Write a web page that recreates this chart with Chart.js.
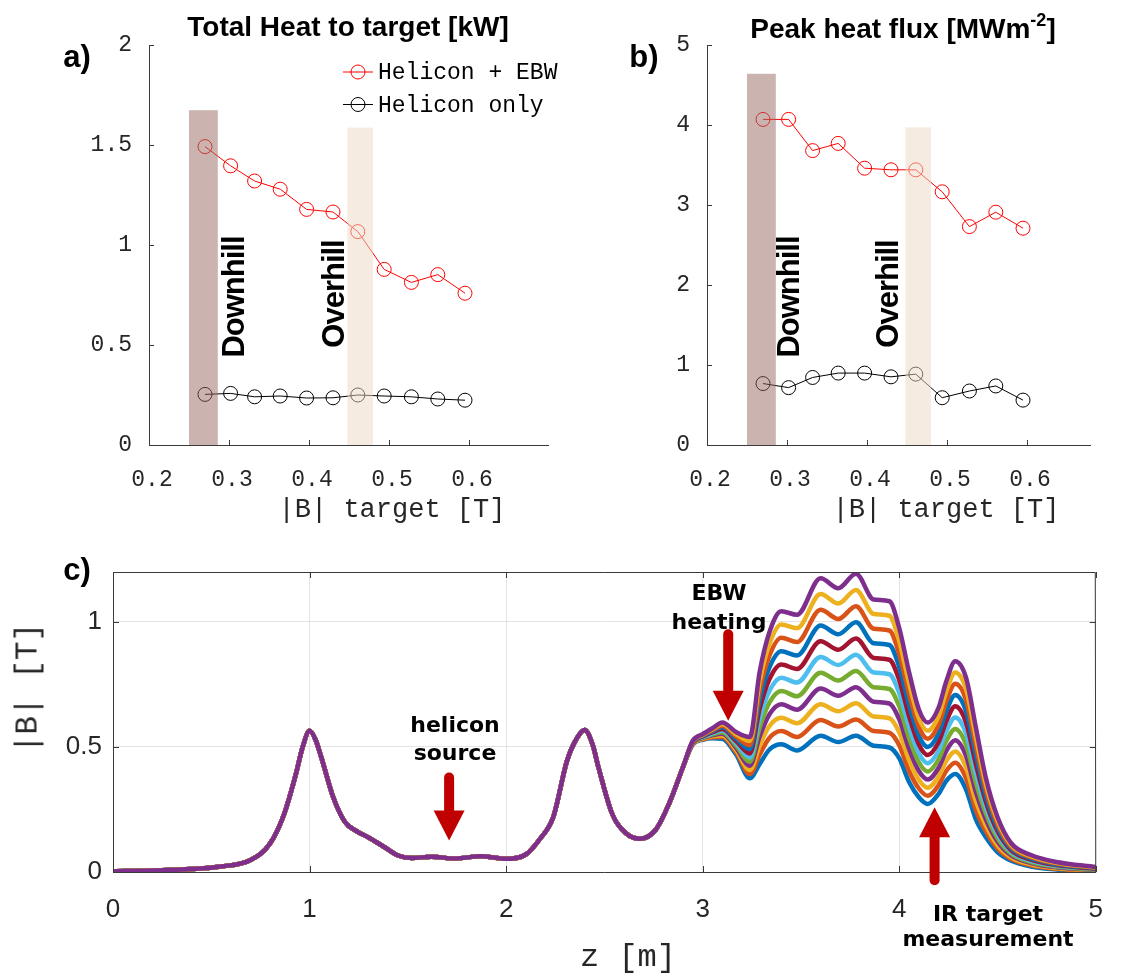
<!DOCTYPE html>
<html lang="en">
<head>
<meta charset="UTF-8">
<title>Target heat load vs |B| at target</title>
<script src="https://cdn.jsdelivr.net/npm/chart.js"></script>
<style>
  body { margin: 0; background: #fff; }
  #page { position: relative; width: 1125px; height: 974px; overflow: hidden;
          font-family: "Liberation Sans", Arial, sans-serif; }
  canvas { position: absolute; }
  .lbl { position: absolute; transform: translate(-50%, -50%); white-space: nowrap; color: #000; }
  .panel { font-weight: bold; font-size: 31px; }
  .title { font-weight: bold; font-size: 28px; }
  .title sup { font-size: 18px; vertical-align: 12px; }
  .regime { font-weight: bold; font-size: 31px; letter-spacing: -1px;
            transform: translate(-50%, -50%) rotate(-90deg); }
  .mono { font-family: "Liberation Mono", monospace; color: #262626; }
  .note { font-family: "DejaVu Sans", sans-serif; font-weight: bold; font-size: 22px;
          text-align: center; }
</style>
</head>
<body>
<div id="page">
  <canvas id="heatChart" width="560" height="540" style="left:0;top:0"></canvas>
  <canvas id="fluxChart" width="565" height="540" style="left:560px;top:0"></canvas>
  <canvas id="fieldChart" width="1125" height="434" style="left:0;top:540px"></canvas>

  <div class="lbl panel" style="left:77px;top:57px">a)</div>
  <div class="lbl panel" style="left:644px;top:57px">b)</div>
  <div class="lbl panel" style="left:77px;top:570px">c)</div>

  <div class="lbl title" style="left:348px;top:27px">Total Heat to target [kW]</div>
  <div class="lbl title" style="left:903px;top:27px">Peak heat flux [MWm<sup>-2</sup>]</div>

  <div class="lbl regime" style="left:234px;top:297px">Downhill</div>
  <div class="lbl regime" style="left:334px;top:294px">Overhill</div>
  <div class="lbl regime" style="left:789px;top:297px">Downhill</div>
  <div class="lbl regime" style="left:888px;top:294px">Overhill</div>

  <div class="lbl mono" style="left:392px;top:510px;font-size:27px">|B| target [T]</div>
  <div class="lbl mono" style="left:946px;top:510px;font-size:27px">|B| target [T]</div>
  <div class="lbl mono" style="left:28px;top:688px;font-size:31px;transform:translate(-50%,-50%) rotate(-90deg)">|B| [T]</div>
  <div class="lbl mono" style="left:628px;top:957px;font-size:32px">z [m]</div>

  <div class="lbl note" style="left:455px;top:739px;line-height:28px">helicon<br>source</div>
  <div class="lbl note" style="left:719px;top:607px;line-height:29px">EBW<br>heating</div>
  <div class="lbl note" style="left:988px;top:926px;line-height:25px">IR target<br>measurement</div>
</div>

<script>
// scan over the field at the target
const bTarget = [0.27, 0.302, 0.332, 0.364, 0.397, 0.43, 0.461, 0.494, 0.528, 0.561, 0.595];
const heatEbw = [1.492, 1.396, 1.320, 1.279, 1.178, 1.165, 1.067, 0.878, 0.813, 0.852, 0.759];
const heatHelicon = [0.253, 0.258, 0.241, 0.245, 0.235, 0.236, 0.250, 0.245, 0.241, 0.230, 0.224];
const fluxEbw = [4.07, 4.07, 3.68, 3.77, 3.46, 3.44, 3.44, 3.165, 2.73, 2.91, 2.71];
const fluxHelicon = [0.768, 0.717, 0.844, 0.899, 0.899, 0.852, 0.886, 0.591, 0.675, 0.738, 0.561];
const seriesNames = ['Helicon + EBW', 'Helicon only'];

const xTicks = [0.2, 0.3, 0.4, 0.5, 0.6];
const heatTicks = [0, 0.5, 1, 1.5, 2];
const fluxTicks = [0, 1, 2, 3, 4, 5];

// downhill / overhill windows of |B| target, and how high the shading goes
const regimeLo = [0.25, 0.448];
const regimeHi = [0.286, 0.48];
const regimeTopHeat = [1.674, 1.587];
const regimeTopFlux = [4.64, 3.97];

// field profile along z, same for every case up to the EBW coils
const zShared = [0, 0.2, 0.4, 0.55, 0.7, 0.8, 0.87, 0.93, 0.965, 1.0, 1.03, 1.06, 1.12, 1.18, 1.24, 1.3,
  1.38, 1.45, 1.52, 1.62, 1.74, 1.87, 2.0, 2.1, 2.17, 2.24, 2.31, 2.36, 2.4, 2.44, 2.47, 2.54, 2.61,
  2.68, 2.76, 2.83, 2.9];
const bShared = [0.003, 0.006, 0.012, 0.022, 0.048, 0.115, 0.23, 0.39, 0.50, 0.565, 0.53, 0.458, 0.30,
  0.2, 0.163, 0.138, 0.10, 0.066, 0.056, 0.061, 0.054, 0.063, 0.053, 0.07, 0.13, 0.22, 0.445, 0.535,
  0.568, 0.51, 0.418, 0.232, 0.155, 0.133, 0.168, 0.275, 0.42];

// downstream part, one profile per EBW coil setting
const zTail = [2.95, 3.0, 3.05, 3.1, 3.17, 3.24, 3.29, 3.34, 3.4, 3.48, 3.6, 3.69, 3.78, 3.87, 3.95,
  4.0, 4.05, 4.1, 4.145, 4.2, 4.24, 4.285, 4.34, 4.39, 4.44, 4.5, 4.57, 4.67, 4.8, 5.0];
const tail027 = [.510,.529,.535,.533,.470,.375,.432,.490,.511,.486,.545,.520,.545,.505,.498,.455,.360,.299,.272,.312,.365,.392,.330,.210,.140,.080,.045,.022,.010,.003];
const tail030 = [.512,.531,.539,.540,.479,.392,.469,.537,.564,.540,.608,.582,.610,.564,.557,.507,.404,.334,.305,.347,.405,.437,.375,.247,.164,.094,.052,.027,.013,.005];
const tail033 = [.513,.533,.543,.546,.488,.408,.506,.584,.617,.595,.671,.643,.675,.622,.615,.559,.448,.369,.337,.381,.445,.482,.419,.284,.188,.108,.059,.031,.016,.006];
const tail036 = [.515,.536,.547,.553,.497,.425,.542,.631,.671,.649,.734,.705,.739,.681,.674,.611,.492,.404,.370,.416,.485,.527,.464,.320,.212,.122,.066,.036,.019,.008];
const tail040 = [.516,.538,.551,.559,.506,.441,.579,.678,.724,.703,.797,.766,.804,.739,.732,.663,.536,.439,.402,.450,.525,.572,.509,.357,.236,.136,.073,.040,.022,.010];
const tail043 = [.518,.540,.555,.566,.515,.458,.616,.725,.777,.758,.860,.828,.869,.798,.791,.716,.580,.475,.435,.485,.565,.618,.554,.394,.260,.150,.080,.045,.025,.012];
const tail046 = [.519,.542,.559,.572,.524,.474,.653,.772,.830,.812,.923,.889,.934,.856,.849,.768,.624,.510,.468,.519,.604,.663,.598,.431,.283,.164,.087,.050,.028,.013];
const tail049 = [.521,.544,.563,.579,.533,.491,.690,.819,.883,.866,.986,.951,.999,.915,.908,.820,.668,.545,.500,.554,.644,.708,.643,.468,.307,.178,.094,.054,.031,.015];
const tail053 = [.522,.547,.567,.585,.542,.507,.726,.866,.937,.920,1.049,1.012,1.063,.973,.966,.872,.712,.580,.533,.588,.684,.753,.688,.504,.331,.192,.101,.059,.034,.017];
const tail056 = [.524,.549,.571,.592,.551,.524,.763,.913,.990,.975,1.112,1.074,1.128,1.032,1.025,.924,.756,.615,.565,.623,.724,.798,.732,.541,.355,.206,.108,.063,.037,.018];
const tail060 = [.525,.551,.575,.598,.560,.540,.800,.960,1.043,1.029,1.175,1.135,1.193,1.090,1.083,.976,.800,.650,.598,.657,.764,.843,.777,.578,.379,.220,.115,.068,.040,.020];
const tails = [tail027, tail030, tail033, tail036, tail040, tail043, tail046, tail049, tail053, tail056, tail060];
const zTicks = [0, 1, 2, 3, 4, 5];
const fieldTicks = [0, 0.5, 1];

// arrows: z position, start and tip in |B|
const arrowZ = [1.71, 3.13, 4.18];
const arrowFrom = [0.378, 0.951, -0.033];
const arrowTo = [0.126, 0.605, 0.259];

const lineColors = ['#0072BD', '#D95319', '#EDB120', '#7E2F8E', '#77AC30', '#4DBEEE', '#A2142F'];
const axisColor = '#3a3a3a';
const tickColor = '#262626';

const pts = (xs, ys) => xs.map((x, i) => ({ x, y: ys[i] }));

// axis lines plus short ticks pointing into the plot
const frame = {
  id: 'frame',
  afterDraw(chart, args, o) {
    const { ctx, chartArea: a, scales: { x, y } } = chart;
    ctx.save();
    ctx.strokeStyle = axisColor;
    ctx.lineWidth = 1;
    ctx.beginPath();
    ctx.moveTo(a.left + 0.5, a.top);
    ctx.lineTo(a.left + 0.5, a.bottom + 0.5);
    ctx.lineTo(a.right, a.bottom + 0.5);
    if (o.box) {
      ctx.lineTo(a.right - 0.5, a.top + 0.5);
      ctx.lineTo(a.left, a.top + 0.5);
    }
    x.ticks.forEach(t => {
      const p = Math.round(x.getPixelForValue(t.value)) + 0.5;
      ctx.moveTo(p, a.bottom); ctx.lineTo(p, a.bottom - o.len);
      if (o.box) { ctx.moveTo(p, a.top); ctx.lineTo(p, a.top + o.len); }
    });
    y.ticks.forEach(t => {
      const p = Math.round(y.getPixelForValue(t.value)) + 0.5;
      ctx.moveTo(a.left, p); ctx.lineTo(a.left + o.len, p);
      if (o.box) { ctx.moveTo(a.right, p); ctx.lineTo(a.right - o.len, p); }
    });
    ctx.stroke();
    ctx.restore();
  }
};

// shaded B windows, laid over the markers
const regimes = {
  id: 'regimes',
  afterDatasetsDraw(chart, args, o) {
    const { ctx, scales: { x, y } } = chart;
    ctx.save();
    o.lo.forEach((lo, i) => {
      const x0 = x.getPixelForValue(lo), x1 = x.getPixelForValue(o.hi[i]);
      const y0 = y.getPixelForValue(0), y1 = y.getPixelForValue(o.top[i]);
      ctx.fillStyle = o.fills[i];
      ctx.fillRect(x0, y1, x1 - x0, y0 - y1);
    });
    ctx.restore();
  }
};

// legend: short line with an open circle, monospaced name
const lineLegend = {
  id: 'lineLegend',
  afterDraw(chart, args, o) {
    const { ctx } = chart;
    ctx.save();
    ctx.font = '23px "Liberation Mono", monospace';
    ctx.textBaseline = 'middle';
    chart.data.datasets.forEach((ds, i) => {
      const yy = o.y + i * o.gap;
      ctx.strokeStyle = ds.borderColor;
      ctx.lineWidth = 1;
      ctx.beginPath();
      ctx.moveTo(o.x, yy); ctx.lineTo(o.x + 30, yy);
      ctx.moveTo(o.x + 22, yy);
      ctx.arc(o.x + 15, yy, 7, 0, Math.PI * 2);
      ctx.stroke();
      ctx.fillStyle = '#000';
      ctx.fillText(ds.label, o.x + 35, yy + 1);
    });
    ctx.restore();
  }
};

// block arrows marking source, heating and measurement positions
const arrows = {
  id: 'arrows',
  afterDraw(chart) {
    const { ctx, scales: { x, y } } = chart;
    ctx.save();
    ctx.fillStyle = '#c00000';
    ctx.strokeStyle = '#c00000';
    arrowZ.forEach((z, i) => {
      const px = x.getPixelForValue(z);
      const y0 = y.getPixelForValue(arrowFrom[i]);
      const y1 = y.getPixelForValue(arrowTo[i]);
      const dir = Math.sign(y1 - y0), head = 30, half = 15.5;
      ctx.lineWidth = 10;
      ctx.lineCap = 'round';
      ctx.beginPath();
      ctx.moveTo(px, y0);
      ctx.lineTo(px, y1 - dir * (head - 2));
      ctx.stroke();
      ctx.beginPath();
      ctx.moveTo(px - half, y1 - dir * head);
      ctx.lineTo(px + half, y1 - dir * head);
      ctx.lineTo(px, y1);
      ctx.closePath();
      ctx.fill();
    });
    ctx.restore();
  }
};

const monoTicks = { family: 'Liberation Mono', size: 23 };

function scanChart(id, ebw, helicon, yMax, yTicks, xMax, regimeTop, pad) {
  new Chart(document.getElementById(id), {
    type: 'line',
    data: {
      datasets: [
        { label: seriesNames[0], data: pts(bTarget, ebw), borderColor: '#ff0000' },
        { label: seriesNames[1], data: pts(bTarget, helicon), borderColor: '#000000' }
      ].map(ds => Object.assign(ds, {
        borderWidth: 1, pointRadius: 7, pointBorderWidth: 1, pointBackgroundColor: 'rgba(0,0,0,0)',
        pointBorderColor: ds.borderColor, tension: 0, fill: false
      }))
    },
    options: {
      responsive: false, animation: false, devicePixelRatio: 1,
      layout: { padding: pad },
      scales: {
        x: {
          type: 'linear', min: 0.2, max: xMax,
          grid: { display: false }, border: { display: false },
          afterBuildTicks: s => { s.ticks = xTicks.map(v => ({ value: v })); },
          afterFit: s => { s.height = 50; },
          ticks: { font: monoTicks, color: tickColor, padding: 13, labelOffset: 3,
                   callback: v => v.toFixed(1) }
        },
        y: {
          min: 0, max: yMax,
          grid: { display: false }, border: { display: false },
          afterBuildTicks: s => { s.ticks = yTicks.map(v => ({ value: v })); },
          afterFit: s => { s.width = 90; },
          ticks: { font: monoTicks, color: tickColor, padding: 9, callback: v => String(v) }
        }
      },
      plugins: {
        legend: { display: false }, tooltip: { enabled: false },
        regimes: { lo: regimeLo, hi: regimeHi, top: regimeTop,
                   fills: ['rgba(151,105,97,0.5)', 'rgba(235,215,193,0.5)'] },
        frame: { box: false, len: 5 },
        lineLegend: { x: 343, y: 72, gap: 32.5 }
      }
    },
    plugins: id === 'heatChart' ? [regimes, frame, lineLegend] : [regimes, frame]
  });
}

scanChart('heatChart', heatEbw, heatHelicon, 2, heatTicks, 0.7, regimeTopHeat,
  { left: 59, right: 11, top: 45, bottom: 45 });
scanChart('fluxChart', fluxEbw, fluxHelicon, 5, fluxTicks, 0.68, regimeTopFlux,
  { left: 57, right: 34, top: 45, bottom: 45 });

// field profiles, highest coil setting drawn last so it sits on top
const fieldSets = tails.map((tail, i) => ({
  data: pts(zShared, bShared).concat(pts(zTail, tail)),
  borderColor: lineColors[i % lineColors.length],
  borderWidth: 4.5, pointRadius: 0, fill: false,
  cubicInterpolationMode: 'monotone'
})).reverse();

new Chart(document.getElementById('fieldChart'), {
  type: 'line',
  data: { datasets: fieldSets },
  options: {
    responsive: false, animation: false, devicePixelRatio: 1,
    layout: { padding: { left: 23, right: 15, top: 32, bottom: 42 } },
    scales: {
      x: {
        type: 'linear', min: 0, max: 5,
        grid: { color: '#e3e3e3', drawTicks: false }, border: { display: false },
        afterBuildTicks: s => { s.ticks = zTicks.map(v => ({ value: v })); },
        afterFit: s => { s.height = 60; },
        ticks: { font: { family: 'Liberation Sans', size: 26 }, color: tickColor, padding: 22 }
      },
      y: {
        min: 0, max: 1.2,
        grid: { color: '#e3e3e3', drawTicks: false }, border: { display: false },
        afterBuildTicks: s => { s.ticks = fieldTicks.map(v => ({ value: v })); },
        afterFit: s => { s.width = 90; },
        ticks: { font: { family: 'Liberation Sans', size: 26 }, color: tickColor, padding: 11,
                 callback: v => String(v) }
      }
    },
    plugins: {
      legend: { display: false }, tooltip: { enabled: false },
      frame: { box: true, len: 6 }
    }
  },
  plugins: [frame, arrows]
});
</script>
</body>
</html>
